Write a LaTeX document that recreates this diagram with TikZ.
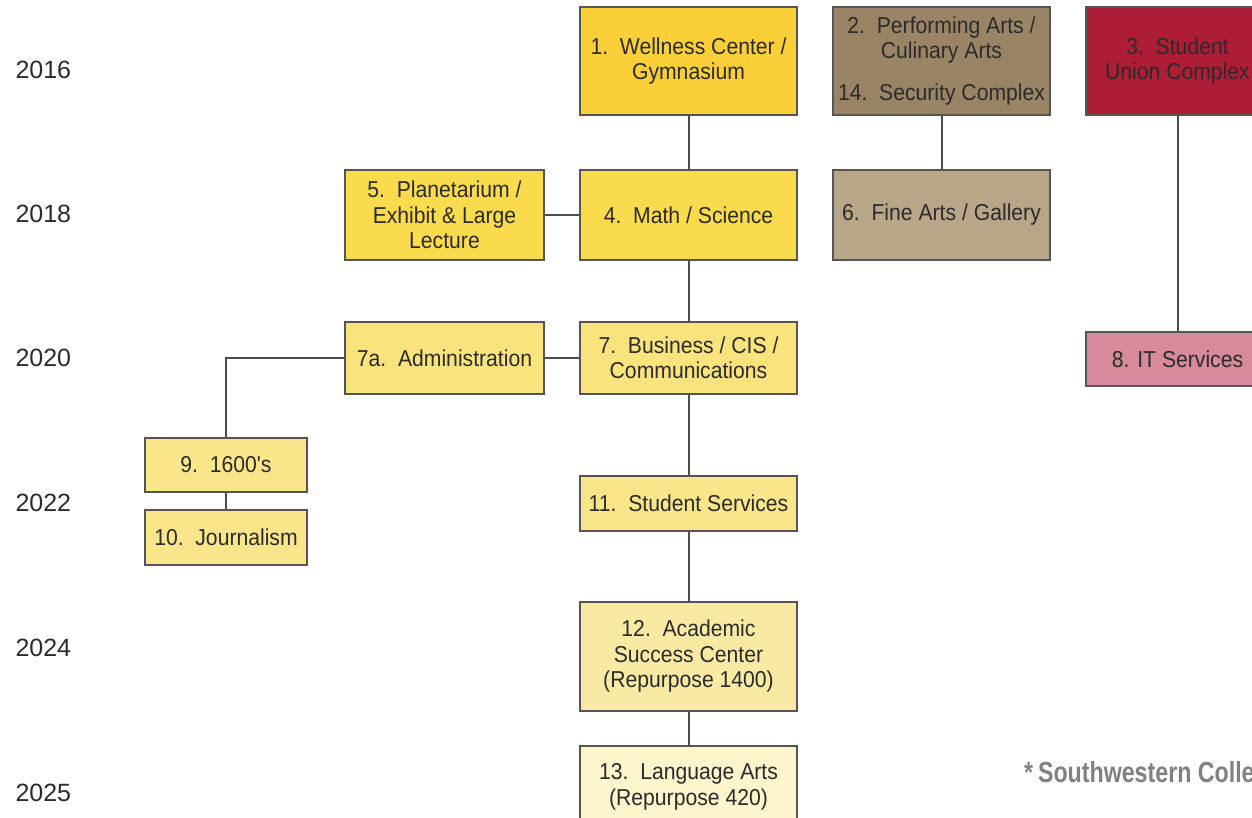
\documentclass[tikz,border=0pt]{standalone}
\usepackage{fontspec}
\setmainfont{Liberation Sans}
\newfontfamily\boxfont{Liberation Sans}[FakeStretch=0.92]
\newfontfamily\notefont{Liberation Sans}[FakeStretch=0.8]
\definecolor{edgegray}{HTML}{555555}
\definecolor{txt}{HTML}{2B2B2B}
\definecolor{notegray}{HTML}{808085}
\definecolor{gold}{HTML}{FBCF38}
\definecolor{yellowa}{HTML}{FBDB4E}
\definecolor{yellowb}{HTML}{F9E37D}
\definecolor{yellowc}{HTML}{FAE68A}
\definecolor{yellowd}{HTML}{F8EAA3}
\definecolor{yellowe}{HTML}{FDF5CC}
\definecolor{brown}{HTML}{9A8466}
\definecolor{tan}{HTML}{B9A688}
\definecolor{crimson}{HTML}{AE1D36}
\definecolor{rose}{HTML}{D78A9A}
\begin{document}
\begin{tikzpicture}[x=1pt, y=-1pt,
	bldg/.style={draw=edgegray, line width=1.6pt, text=txt, align=center,
		font=\boxfont\fontsize{23}{25.5}\selectfont, inner sep=0pt},
	year/.style={anchor=west, text=txt, font=\fontsize{25}{28}\selectfont},
	link/.style={draw=edgegray!90!black, line width=2pt}]
		\useasboundingbox (0,0) rectangle (1252,817);
		\clip (0,0) rectangle (1252,817);
		% years
		\node[year] (y16) at (12,70) {2016};
		\node[year] (y18) at (12,214) {2018};
		\node[year] (y20) at (12,358) {2020};
		\node[year] (y22) at (12,503) {2022};
		\node[year] (y24) at (12,648) {2024};
		\node[year] (y25) at (12,793) {2025};
		% buildings
		\node[bldg, fill=gold, minimum width=217, minimum height=108] (b1) at (688.5,61) {1.\ \ Wellness Center /\\Gymnasium};
		\node[bldg, fill=brown, minimum width=217, minimum height=108] (b2) at (941.5,61) {2.\ \ Performing Arts /\\Culinary Arts\\[16pt]14.\ \ Security Complex};
		\node[bldg, fill=crimson, minimum width=183, minimum height=108] (b3) at (1177.5,61) {3.\ \ Student\\Union Complex};
		\node[bldg, fill=yellowa, minimum width=199, minimum height=90] (b5) at (444.5,215) {5.\ \ Planetarium /\\Exhibit \& Large\\Lecture};
		\node[bldg, fill=yellowa, minimum width=217, minimum height=90] (b4) at (688.5,215) {4.\ \ Math / Science};
		\node[bldg, fill=tan, minimum width=217, minimum height=90] (b6) at (941.5,215) {6.\ \ Fine Arts / Gallery};
		\node[bldg, fill=yellowb, minimum width=199, minimum height=72] (b7a) at (444.5,358) {7a.\ \ Administration};
		\node[bldg, fill=yellowb, minimum width=217, minimum height=72] (b7) at (688.5,358) {7.\ \ Business / CIS /\\Communications};
		\node[bldg, fill=rose, minimum width=183, minimum height=54] (b8) at (1177.5,359) {8. IT Services};
		\node[bldg, fill=yellowc, minimum width=162, minimum height=54] (b9) at (226,465) {9.\ \ 1600's};
		\node[bldg, fill=yellowc, minimum width=162, minimum height=55] (b10) at (226,537.5) {10.\ \ Journalism};
		\node[bldg, fill=yellowc, minimum width=217, minimum height=55] (b11) at (688.5,503.5) {11.\ \ Student Services};
		\node[bldg, fill=yellowd, minimum width=217, minimum height=109] (b12) at (688.5,656.5) {12.\ \ Academic\\Success Center\\(Repurpose 1400)};
		\node[bldg, fill=yellowe, minimum width=217, minimum height=82] (b13) at (688.5,787) {13.\ \ Language Arts\\(Repurpose 420)};
		% links
		\draw[link] (b1) -- (b4);
		\draw[link] (b4) -- (b7);
		\draw[link] (b7) -- (b11);
		\draw[link] (b11) -- (b12);
		\draw[link] (b12) -- (b13);
		\draw[link] (b5) -- (b4);
		\draw[link] (b7a) -- (b7);
		\draw[link] (b7a.west) -| (b9.north);
		\draw[link] (b9) -- (b10);
		\draw[link] (b2) -- (b6);
		\draw[link] (b3) -- (b8);
		% note
		\node[anchor=west, inner sep=0pt, text=notegray, font=\notefont\bfseries\fontsize{29}{31}\selectfont] (note) at (1024,775) {*\,Southwestern College};
	\end{tikzpicture}
\end{document}
